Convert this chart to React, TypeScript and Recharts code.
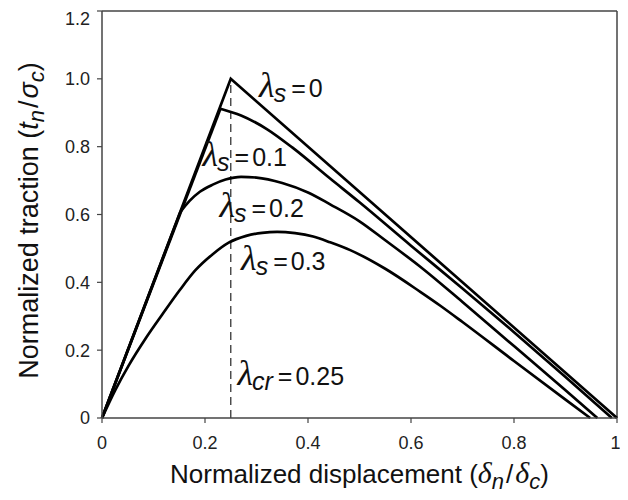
import React from 'react';
import { LineChart, Line, XAxis, YAxis, ReferenceLine, ReferenceDot } from 'recharts';

const xTicks = [0, 0.2, 0.4, 0.6, 0.8, 1];
const yTicks = [0, 0.2, 0.4, 0.6, 0.8, 1.0, 1.2];

const lambda00 = [
  { x: 0, y: 0 }, { x: 0.25, y: 1.0 }, { x: 1.0, y: 0 },
];

// lambda_s = 0.1 : linear loading branch, then softening branch
const lambda01Load = [{ x: 0, y: 0 }, { x: 0.23, y: 0.912 }];
const lambda01Soft = [
  { x: 0.23, y: 0.912 }, { x: 0.27, y: 0.892 }, { x: 0.32, y: 0.852 },
  { x: 0.37, y: 0.797 }, { x: 0.443, y: 0.706 }, { x: 0.5, y: 0.636 }, { x: 0.6, y: 0.508 },
  { x: 0.7, y: 0.382 }, { x: 0.8, y: 0.253 }, { x: 0.9, y: 0.121 }, { x: 0.99, y: 0 },
];

// lambda_s = 0.2
const lambda02Load = [{ x: 0, y: 0 }, { x: 0.152, y: 0.607 }];
const lambda02Soft = [
  { x: 0.152, y: 0.607 }, { x: 0.17, y: 0.64 }, { x: 0.19, y: 0.667 },
  { x: 0.215, y: 0.688 }, { x: 0.24, y: 0.703 }, { x: 0.27, y: 0.711 }, { x: 0.3, y: 0.709 },
  { x: 0.35, y: 0.693 }, { x: 0.4, y: 0.665 }, { x: 0.443, y: 0.63 }, { x: 0.5, y: 0.58 },
  { x: 0.55, y: 0.524 }, { x: 0.618, y: 0.446 }, { x: 0.7, y: 0.342 }, { x: 0.8, y: 0.212 },
  { x: 0.9, y: 0.082 }, { x: 0.962, y: 0 },
];

// lambda_s = 0.3
const lambda03 = [
  { x: 0, y: 0 }, { x: 0.025, y: 0.08 }, { x: 0.052, y: 0.155 }, { x: 0.085, y: 0.235 },
  { x: 0.117, y: 0.305 }, { x: 0.15, y: 0.375 }, { x: 0.181, y: 0.435 }, { x: 0.215, y: 0.483 },
  { x: 0.246, y: 0.517 }, { x: 0.28, y: 0.537 }, { x: 0.311, y: 0.546 }, { x: 0.34, y: 0.549 },
  { x: 0.375, y: 0.545 }, { x: 0.41, y: 0.535 }, { x: 0.443, y: 0.518 }, { x: 0.482, y: 0.495 },
  { x: 0.55, y: 0.44 }, { x: 0.618, y: 0.372 }, { x: 0.657, y: 0.331 }, { x: 0.7, y: 0.283 },
  { x: 0.8, y: 0.168 }, { x: 0.9, y: 0.054 }, { x: 0.948, y: 0 },
];

const critical = [{ x: 0.25, y: 0 }, { x: 0.25, y: 1.0 }];

const annotations = [
  { x: 0.305, y: 0.947, sub: 's', val: '0' },
  { x: 0.195, y: 0.742, sub: 's', val: '0.1' },
  { x: 0.228, y: 0.593, sub: 's', val: '0.2' },
  { x: 0.27, y: 0.436, sub: 's', val: '0.3' },
  { x: 0.263, y: 0.097, sub: 'cr', val: '0.25' },
];

const SANS = 'Liberation Sans';
const SERIF = 'Liberation Serif';

function Anno(props: any) {
  const { viewBox, sub, val } = props;
  const x = viewBox ? viewBox.x : 0;
  const y = viewBox ? viewBox.y : 0;
  return (
    <text x={x} y={y} fontFamily={SANS} fontSize={25} fill="#111">
      <tspan fontFamily={SERIF} fontStyle="italic" fontSize={36}>λ</tspan>
      <tspan fontStyle="italic" fontSize={25} dy={5} dx={-1}>{sub}</tspan>
      <tspan dy={-5} dx={5}>=</tspan>
      <tspan dx={3}>{val}</tspan>
    </text>
  );
}

function XTitle(props: any) {
  const vb = props.viewBox || { x: 0, y: 0, width: 0, height: 0 };
  return (
    <text x={vb.x + vb.width / 2} y={vb.y + 65} textAnchor="middle" fontFamily={SANS} fontSize={26} fill="#111">
      Normalized displacement (
      <tspan fontFamily={SERIF} fontStyle="italic" fontSize={30}>δ</tspan>
      <tspan fontStyle="italic" fontSize={22} dy={6}>n</tspan>
      <tspan dy={-6} dx={2}>/</tspan>
      <tspan fontFamily={SERIF} fontStyle="italic" fontSize={30} dx={2}>δ</tspan>
      <tspan fontStyle="italic" fontSize={22} dy={6}>c</tspan>
      <tspan dy={-6}>)</tspan>
    </text>
  );
}

function YTitle(props: any) {
  const vb = props.viewBox || { x: 0, y: 0, width: 0, height: 0 };
  const cx = 30;
  const cy = vb.y + vb.height / 2 + 6;
  return (
    <text x={cx} y={cy} transform={`rotate(-90, ${cx}, ${cy})`} textAnchor="middle" fontFamily={SANS} fontSize={27} fill="#111">
      Normalized traction (
      <tspan fontStyle="italic">t</tspan>
      <tspan fontStyle="italic" fontSize={22} dy={6}>n</tspan>
      <tspan dy={-6} dx={2}>/</tspan>
      <tspan fontStyle="italic" dx={2}>σ</tspan>
      <tspan fontStyle="italic" fontSize={22} dy={6}>c</tspan>
      <tspan dy={-6}>)</tspan>
    </text>
  );
}

const fmtY = (v: number) => (v === 0 ? '0' : v.toFixed(1));
const fmtX = (v: number) => (v === 0 || v === 1 ? String(v) : v.toFixed(1));

export default function App() {
  const tickStyle = { fontFamily: SANS, fontSize: 18, fill: '#222' };
  const axisColor = '#444';
  const curve = { stroke: '#000', strokeWidth: 2.7, dot: false, isAnimationActive: false, dataKey: 'y' };
  return (
    <LineChart width={612} height={490} margin={{ top: 3, right: 3, left: 0, bottom: 0 }}>
      <XAxis
        type="number"
        dataKey="x"
        domain={[0, 1]}
        ticks={xTicks}
        tickFormatter={fmtX}
        height={80}
        tickSize={5}
        tickMargin={13}
        tick={tickStyle}
        axisLine={{ stroke: axisColor, strokeWidth: 1.5 }}
        tickLine={{ stroke: axisColor, strokeWidth: 1.2 }}
        label={<XTitle />}
      />
      <YAxis
        type="number"
        dataKey="y"
        domain={[0, 1.2]}
        ticks={yTicks}
        tickFormatter={fmtY}
        width={94}
        tickSize={5}
        tickMargin={7}
        tick={tickStyle}
        axisLine={{ stroke: axisColor, strokeWidth: 1.5 }}
        tickLine={{ stroke: axisColor, strokeWidth: 1.2 }}
        label={<YTitle />}
      />
      <ReferenceLine y={1.2} stroke={axisColor} strokeWidth={1.5} />
      <ReferenceLine x={1} stroke={axisColor} strokeWidth={1.5} />
      <Line data={critical} dataKey="y" stroke="#444" strokeWidth={1.4} strokeDasharray="8 5" dot={false} isAnimationActive={false} />
      <Line data={lambda00} type="linear" {...curve} />
      <Line data={lambda01Load} type="linear" {...curve} />
      <Line data={lambda01Soft} type="monotone" {...curve} />
      <Line data={lambda02Load} type="linear" {...curve} />
      <Line data={lambda02Soft} type="monotone" {...curve} />
      <Line data={lambda03} type="monotone" {...curve} />
      {annotations.map((a, i) => (
        <ReferenceDot key={i} x={a.x} y={a.y} r={0} fill="none" stroke="none" label={<Anno sub={a.sub} val={a.val} />} />
      ))}
    </LineChart>
  );
}
